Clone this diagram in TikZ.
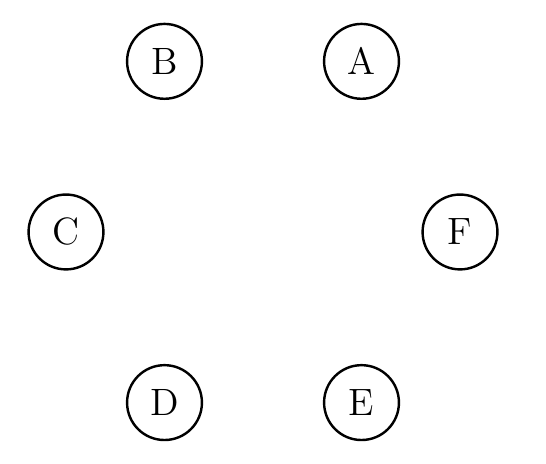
\documentclass[tikz,border=0pt]{standalone}
\begin{document}
\begin{tikzpicture}[
  vertex/.style={circle,draw,line width=0.7pt,minimum size=0.76cm,inner sep=0pt,font=\fontsize{11}{13}\selectfont}
]
\useasboundingbox (-2.670,-2.355) rectangle (2.873,2.355);
\node[vertex] (A) at (60:2cm) {A};
\node[vertex] (B) at (120:2cm) {B};
\node[vertex] (C) at (180:2cm) {C};
\node[vertex] (D) at (240:2cm) {D};
\node[vertex] (E) at (300:2cm) {E};
\node[vertex] (F) at (0:2cm) {F};
\end{tikzpicture}
\end{document}
